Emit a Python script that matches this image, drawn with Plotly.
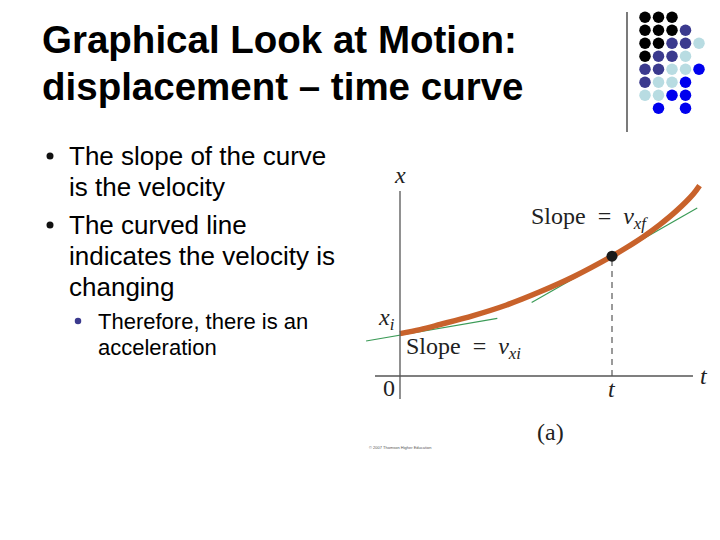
import plotly.graph_objects as go

# ---------------- data ----------------
# displacement-time curve (t, x)
curve_t = [0.0, 0.095, 0.189, 0.346, 0.503, 0.660, 0.818, 1.0, 1.069, 1.148, 1.226, 1.305, 1.383, 1.413]
curve_x = [0.200, 0.219, 0.243, 0.285, 0.335, 0.397, 0.468, 0.565, 0.606, 0.657, 0.714, 0.780, 0.858, 0.898]

# tangent lines
tan_i_t = [-0.160, 0.459]
tan_i_x = [0.165, 0.272]
tan_f_t = [0.621, 1.402]
tan_f_x = [0.347, 0.792]

# marked point at time t
point_t = [1.0]
point_x = [0.565]

# axis extents
t_axis = [-0.118, 1.382]
x_axis = [-0.108, 0.873]

# slide text
title_lines = ["Graphical Look at Motion:", "displacement – time curve"]
bullet1 = ["The slope of the curve", "is the velocity"]
bullet2 = ["The curved line", "indicates the velocity is", "changing"]
sub_bullet = ["Therefore, there is an", "acceleration"]

# decorative dot grid (rows top->bottom, 5 columns)
K, N, L, B = "#000000", "#3b3a8e", "#b8dce2", "#0000ee"
dot_rows = [
    [K, K, K, None, None],
    [K, K, K, N, None],
    [K, K, N, N, L],
    [K, N, N, L, None],
    [N, N, L, L, B],
    [N, L, L, B, None],
    [L, L, B, B, None],
    [None, B, None, B, None],
]

# ---------------- figure ----------------
W, H = 720, 540
OFF = 8            # page body margin: figure starts at page pixel (8, 8)
S = 212.0          # pixels per data unit
OX, OY = 400, 376  # page pixel of origin

fig = go.Figure()

GREEN = "#3b9b57"
fig.add_trace(go.Scatter(x=tan_i_t, y=tan_i_x, mode="lines",
                         line=dict(color=GREEN, width=1.2), hoverinfo="skip"))
fig.add_trace(go.Scatter(x=tan_f_t, y=tan_f_x, mode="lines",
                         line=dict(color=GREEN, width=1.2), hoverinfo="skip"))
fig.add_trace(go.Scatter(x=curve_t, y=curve_x, mode="lines",
                         line=dict(color="#c8622b", width=5.5, shape="spline", smoothing=1.0),
                         hoverinfo="skip"))
# dashed drop line
fig.add_trace(go.Scatter(x=[point_t[0], point_t[0]], y=[0, point_x[0]], mode="lines",
                         line=dict(color="#7a7a7a", width=1.5, dash="6px,5px"),
                         hoverinfo="skip"))
fig.add_trace(go.Scatter(x=point_t, y=point_x, mode="markers",
                         marker=dict(color="#1a1a1a", size=11), hoverinfo="skip"))

# axes as lines
fig.add_trace(go.Scatter(x=t_axis, y=[0, 0], mode="lines",
                         line=dict(color="#555555", width=1.3), hoverinfo="skip"))
fig.add_trace(go.Scatter(x=[0, 0], y=x_axis, mode="lines",
                         line=dict(color="#555555", width=1.3), hoverinfo="skip"))

# dot grid on pixel axes
col_x0, col_dx = 645.0, 13.5
row_y0, row_dy = 17.3, 13.0
gx, gy, gc = [], [], []
for r, row in enumerate(dot_rows):
    for c, colr in enumerate(row):
        if colr:
            gx.append(col_x0 + c * col_dx)
            gy.append(row_y0 + r * row_dy)
            gc.append(colr)
fig.add_trace(go.Scatter(x=gx, y=gy, mode="markers", xaxis="x2", yaxis="y2",
                         marker=dict(color=gc, size=11.5, line=dict(width=0)),
                         hoverinfo="skip"))
# vertical separator line
fig.add_trace(go.Scatter(x=[627, 627], y=[12, 132], mode="lines", xaxis="x2", yaxis="y2",
                         line=dict(color="#222222", width=1.2), hoverinfo="skip"))
# bullet dots
fig.add_trace(go.Scatter(x=[50, 50], y=[156, 225], mode="markers", xaxis="x2", yaxis="y2",
                         marker=dict(color="#111111", size=7), hoverinfo="skip"))
fig.add_trace(go.Scatter(x=[78], y=[321], mode="markers", xaxis="x2", yaxis="y2",
                         marker=dict(color="#3b3a8e", size=6.5), hoverinfo="skip"))

ann = []
SANS = "Liberation Sans, Arial, sans-serif"
SERIF = "Liberation Serif, Times New Roman, serif"


def px_text(text, x, y, size, family=SANS, color="#000000", xanchor="left", bold=False):
    ann.append(dict(text=("<b>%s</b>" % text) if bold else text, x=x, y=y,
                    xref="x2", yref="y2", xanchor=xanchor, yanchor="middle",
                    showarrow=False, font=dict(family=family, size=size, color=color)))


for i, line in enumerate(title_lines):
    px_text(line, 40, 39 + i * 47, 38.5, bold=True)
for i, line in enumerate(bullet1):
    px_text(line, 67, 156 + i * 31, 26)
for i, line in enumerate(bullet2):
    px_text(line, 67, 225 + i * 31, 26)
for i, line in enumerate(sub_bullet):
    px_text(line, 96, 321 + i * 26, 22)


def d_text(text, t, x, size=24, xanchor="center", italic=False):
    ann.append(dict(text=("<i>%s</i>" % text) if italic else text, x=t, y=x,
                    xref="x", yref="y", xanchor=xanchor, yanchor="middle",
                    showarrow=False, font=dict(family=SERIF, size=size, color="#222222")))


SP = "&#160;"
d_text("x", 0.0, (OY - 175) / S, italic=True)
d_text("t", (704 - OX) / S, 0.0, italic=True)
d_text("0", (389 - OX) / S, (OY - 388) / S)
d_text("t", point_t[0], (OY - 389) / S, italic=True)
d_text("<i>x</i><sub><i>i</i></sub>", (386 - OX) / S, (OY - 319) / S)
d_text("Slope" + SP * 2 + "=" + SP * 2 + "<i>v</i><sub><i>xi</i></sub>",
       (404 - OX) / S, (OY - 348) / S, xanchor="left")
d_text("Slope" + SP * 2 + "=" + SP * 2 + "<i>v</i><sub><i>xf</i></sub>",
       (529 - OX) / S, (OY - 218) / S, xanchor="left")
d_text("(a)", (550 - OX) / S, (OY - 432) / S)
ann.append(dict(text="© 2007 Thomson Higher Education", x=367, y=447, xref="x2", yref="y2",
                xanchor="left", yanchor="middle", showarrow=False,
                font=dict(family=SANS, size=4, color="#555555")))

fig.update_layout(
    width=W, height=H,
    margin=dict(l=0, r=0, t=0, b=0),
    paper_bgcolor="white", plot_bgcolor="white",
    showlegend=False,
    xaxis=dict(range=[(OFF - OX) / S, (W + OFF - OX) / S], visible=False, domain=[0, 1]),
    yaxis=dict(range=[-(H + OFF - OY) / S, (OY - OFF) / S], visible=False, domain=[0, 1]),
    xaxis2=dict(range=[OFF, W + OFF], visible=False, overlaying="x", domain=[0, 1]),
    yaxis2=dict(range=[H + OFF, OFF], visible=False, overlaying="y", domain=[0, 1]),
    annotations=ann,
)

fig.write_html("out.html")
